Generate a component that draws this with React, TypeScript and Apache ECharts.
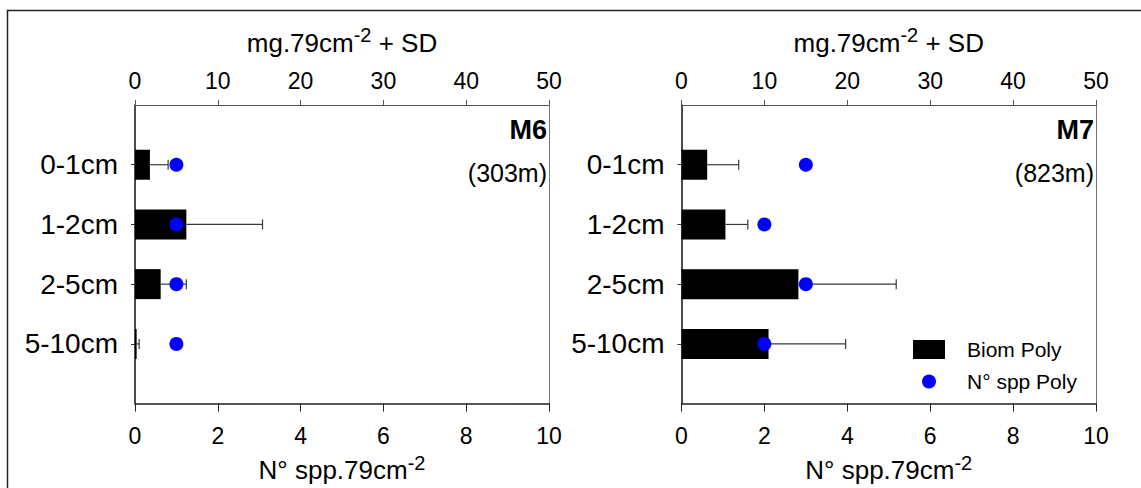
import React, { useEffect, useRef } from "react";
import * as echarts from "echarts";

// Sediment layers (with empty slots above and below for spacing)
const layers = ["", "0-1cm", "1-2cm", "2-5cm", "5-10cm", ""];

// Station M6 (303m)
const m6Biomass = [1.8, 6.2, 3.1, 0.2];
const m6BiomassSD = [2.2, 9.2, 3.1, 0.3];
const m6Species = [1, 1, 1, 1];

// Station M7 (823m)
const m7Biomass = [3.1, 5.3, 14.1, 10.5];
const m7BiomassSD = [3.8, 2.7, 11.8, 9.3];
const m7Species = [3, 2, 3, 2];

const biomassTicks = { min: 0, max: 50, interval: 10 };
const speciesTicks = { min: 0, max: 10, interval: 2 };

const FONT = "'Liberation Sans', Arial, sans-serif";
const BLUE = "#0000ff";

const padded = (arr: number[]) => [null, ...arr, null];

const nameStyle = {
  fontFamily: FONT,
  fontSize: 26,
  color: "#000",
  rich: {
    sup: { fontSize: 20, fontFamily: FONT, color: "#000", padding: [0, 0, 15, 0] },
  },
};

function makePanel(gi: number) {
  const xTop = {
    gridIndex: gi,
    type: "value",
    position: "top",
    ...biomassTicks,
    name: "mg.79cm{sup|-2} + SD",
    nameLocation: "middle",
    nameGap: 45,
    nameTextStyle: nameStyle,
    axisLine: { show: true, onZero: false, lineStyle: { color: "#555", width: 1 } },
    axisTick: { show: true, length: 5, lineStyle: { color: "#555" } },
    axisLabel: { fontFamily: FONT, fontSize: 23, color: "#000", margin: 13 },
    splitLine: { show: false },
  };
  const xBottom = {
    gridIndex: gi,
    type: "value",
    position: "bottom",
    ...speciesTicks,
    name: "N° spp.79cm{sup|-2}",
    nameLocation: "middle",
    nameGap: 46,
    nameTextStyle: nameStyle,
    axisLine: { show: true, onZero: false, lineStyle: { color: "#222", width: 1.5 } },
    axisTick: { show: true, length: 8, lineStyle: { color: "#222" } },
    axisLabel: { fontFamily: FONT, fontSize: 23, color: "#000", margin: 21 },
    splitLine: { show: false },
  };
  const yLeft = {
    gridIndex: gi,
    type: "category",
    data: layers,
    inverse: true,
    boundaryGap: false,
    axisLine: { show: true, onZero: false, lineStyle: { color: "#111", width: 1.5 } },
    axisTick: {
      show: true,
      length: 4,
      interval: (_i: number, v: string) => v !== "",
      lineStyle: { color: "#333" },
    },
    axisLabel: { fontFamily: FONT, fontSize: 28, color: "#000", margin: 17 },
    splitLine: { show: false },
  };
  const yRight = {
    gridIndex: gi,
    type: "category",
    data: layers,
    inverse: true,
    boundaryGap: false,
    position: "right",
    axisLine: { show: true, onZero: false, lineStyle: { color: "#777", width: 1 } },
    axisTick: { show: false },
    axisLabel: { show: false },
    splitLine: { show: false },
  };
  return { xTop, xBottom, yLeft, yRight };
}

function errorBarSeries(xi: number, yi: number, values: number[], sds: number[]) {
  return {
    type: "custom",
    xAxisIndex: xi,
    yAxisIndex: yi,
    z: 3,
    data: values.map((v, i) => [v, i + 1, sds[i]]),
    renderItem: (_params: any, api: any) => {
      const v = api.value(0);
      const c = api.value(1);
      const sd = api.value(2);
      const p0 = api.coord([v, c]);
      const p1 = api.coord([v + sd, c]);
      const style = { stroke: "#3a3a3a", lineWidth: 1.2 };
      return {
        type: "group",
        children: [
          { type: "line", shape: { x1: p0[0], y1: p0[1], x2: p1[0], y2: p1[1] }, style },
          { type: "line", shape: { x1: p1[0], y1: p1[1] - 5, x2: p1[0], y2: p1[1] + 5 }, style },
        ],
      };
    },
  };
}

function barSeries(xi: number, yi: number, values: number[]) {
  return {
    name: "Biom Poly",
    type: "bar",
    xAxisIndex: xi,
    yAxisIndex: yi,
    barWidth: 30,
    z: 2,
    itemStyle: { color: "#000" },
    data: padded(values),
  };
}

function dotSeries(xi: number, yi: number, values: number[]) {
  return {
    name: "N° spp Poly",
    type: "scatter",
    xAxisIndex: xi,
    yAxisIndex: yi,
    symbol: "circle",
    symbolSize: 14,
    z: 4,
    itemStyle: { color: BLUE, opacity: 1 },
    data: values.map((v, i) => [v, i + 1]),
  };
}

export default function App() {
  const ref = useRef<HTMLDivElement>(null);

  useEffect(() => {
    document.body.style.margin = "0";
    if (!ref.current) return;
    const chart = echarts.init(ref.current, null, { renderer: "svg" });

    const a = makePanel(0);
    const b = makePanel(1);

    const stationLabel = (right: number, code: string, depth: string) => [
      {
        type: "text",
        right,
        top: 116,
        style: { text: code, font: `bold 27px ${FONT}`, fill: "#000", textAlign: "right" },
      },
      {
        type: "text",
        right,
        top: 160,
        style: { text: depth, font: `25px ${FONT}`, fill: "#000", textAlign: "right" },
      },
    ];

    chart.setOption({
      animation: false,
      backgroundColor: "#fff",
      grid: [
        { left: 135, top: 105, width: 414, height: 299 },
        { left: 681.5, top: 105, width: 414.5, height: 299 },
      ],
      xAxis: [a.xTop, a.xBottom, b.xTop, b.xBottom],
      yAxis: [a.yLeft, a.yRight, b.yLeft, b.yRight],
      legend: [
        {
          data: [{ name: "Biom Poly", icon: "rect" }],
          left: 913,
          top: 339,
          padding: 0,
          itemWidth: 32,
          itemHeight: 19,
          textStyle: { fontFamily: FONT, fontSize: 21, color: "#000", padding: [0, 0, 0, 17] },
        },
        {
          data: [{ name: "N° spp Poly", icon: "circle" }],
          left: 922,
          top: 371,
          padding: 0,
          itemWidth: 14,
          itemHeight: 14,
          textStyle: { fontFamily: FONT, fontSize: 21, color: "#000", padding: [0, 0, 0, 26] },
        },
      ],
      graphic: [
        {
          type: "rect",
          shape: { x: 7.5, y: 10.5, width: 1300, height: 600 },
          style: { fill: "none", stroke: "#222", lineWidth: 1.5 },
          silent: true,
        },
        ...stationLabel(1141 - 547, "M6", "(303m)"),
        ...stationLabel(1141 - 1094, "M7", "(823m)"),
      ],
      series: [
        barSeries(0, 0, m6Biomass),
        errorBarSeries(0, 0, m6Biomass, m6BiomassSD),
        dotSeries(1, 0, m6Species),
        barSeries(2, 2, m7Biomass),
        errorBarSeries(2, 2, m7Biomass, m7BiomassSD),
        dotSeries(3, 2, m7Species),
      ],
    });

    return () => chart.dispose();
  }, []);

  return <div ref={ref} style={{ width: 1141, height: 488 }} />;
}
